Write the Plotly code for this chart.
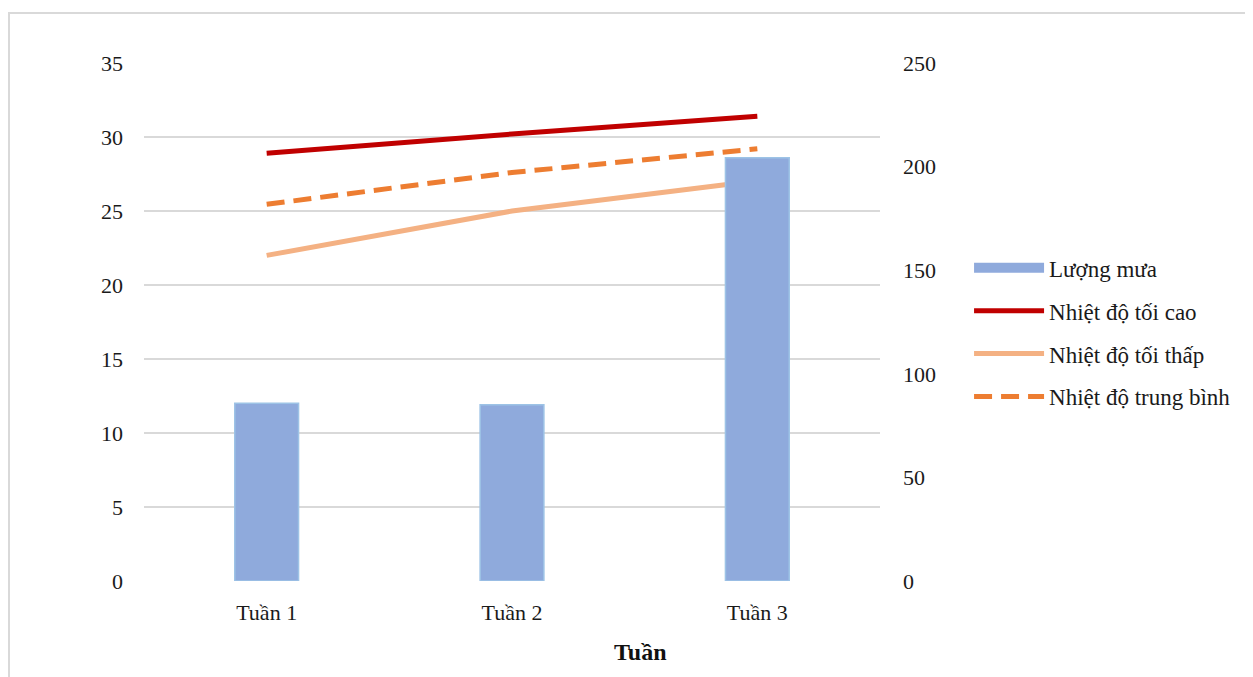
import plotly.graph_objects as go

weeks = ["Tuần 1", "Tuần 2", "Tuần 3"]
rain = [85.8, 85.1, 204.3]
t_max = [28.9, 30.2, 31.4]
t_min = [22.0, 25.0, 27.05]
t_avg = [25.45, 27.6, 29.2]

FONT = "Liberation Serif, Times New Roman, serif"
BAR_COLOR = "#8FAADC"

fig = go.Figure()
fig.add_trace(go.Bar(
    x=weeks, y=rain, name="Lượng mưa", yaxis="y2", width=0.26,
    marker=dict(color=BAR_COLOR, line=dict(color="#9DC3E6", width=1.5)),
    legendgroup="a", showlegend=False,
))
# legend entry for the bars (wide rectangle swatch like the original)
fig.add_trace(go.Scatter(
    x=[None], y=[None], name="Lượng mưa", mode="lines", yaxis="y2",
    line=dict(color=BAR_COLOR, width=16), legendgroup="a", hoverinfo="skip",
))
fig.add_trace(go.Scatter(
    x=weeks, y=t_max, name="Nhiệt độ tối cao", mode="lines",
    line=dict(color="#C00000", width=5), legendgroup="b",
))
fig.add_trace(go.Scatter(
    x=weeks, y=t_min, name="Nhiệt độ tối thấp", mode="lines",
    line=dict(color="#F4B183", width=5), legendgroup="c",
))
fig.add_trace(go.Scatter(
    x=weeks, y=t_avg, name="Nhiệt độ trung bình", mode="lines",
    line=dict(color="#ED7D31", width=5, dash="18px,9px"), legendgroup="d",
))

fig.update_layout(
    width=1253, height=677,
    margin=dict(l=136, r=381, t=55, b=104),
    paper_bgcolor="white", plot_bgcolor="white",
    font=dict(family=FONT, size=22, color="#1a1a1a"),
    showlegend=True,
    legend=dict(
        x=1.121, xanchor="left", y=0.48, yanchor="middle",
        font=dict(family=FONT, size=23, color="#1a1a1a"),
        itemwidth=70, tracegroupgap=10, traceorder="grouped",
        bgcolor="rgba(0,0,0,0)",
    ),
    xaxis=dict(
        type="category", showgrid=False, showline=False, zeroline=False,
        ticks="outside", ticklen=12, tickcolor="rgba(0,0,0,0)",
        tickfont=dict(family=FONT, size=22, color="#1a1a1a"),
    ),
    yaxis=dict(
        range=[0, 35], dtick=5, showgrid=True, gridcolor="#D9D9D9", gridwidth=2,
        zeroline=False, showline=False, ticklabelstandoff=20,
        tickfont=dict(family=FONT, size=22, color="#1a1a1a"),
    ),
    yaxis2=dict(
        range=[0, 250], dtick=50, overlaying="y", side="right", showgrid=False,
        zeroline=False, showline=False, ticklabelstandoff=22,
        tickfont=dict(family=FONT, size=22, color="#1a1a1a"),
    ),
    annotations=[dict(
        text="<b>Tuần</b>", xref="paper", yref="paper", x=0.675, y=-0.137,
        xanchor="center", yanchor="middle", showarrow=False,
        font=dict(family=FONT, size=24, color="#111111"),
    )],
    shapes=[dict(
        type="rect", xref="paper", yref="paper",
        x0=-0.1834, x1=1.52, y0=-0.25, y1=1.0965,
        line=dict(color="#D9D9D9", width=2), fillcolor="rgba(0,0,0,0)", layer="below",
    )],
)

fig.write_html("out.html")
